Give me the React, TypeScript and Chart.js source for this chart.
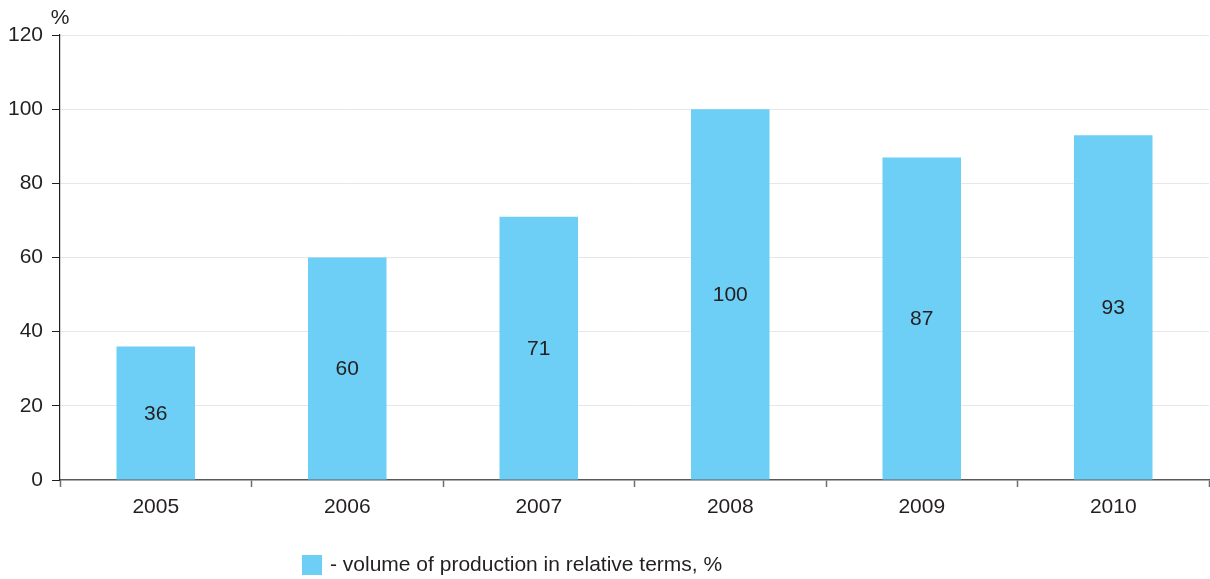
import React, { useEffect, useRef } from "react";
import { Chart, registerables } from "chart.js";

Chart.register(...registerables);

const years = ["2005", "2006", "2007", "2008", "2009", "2010"];
const volume = [36, 60, 71, 100, 87, 93];
const yTicks = [0, 20, 40, 60, 80, 100, 120];
const seriesLabel = "- volume of production in relative terms, %";
const unitLabel = "%";

const FONT = "'Liberation Sans', Arial, Helvetica, sans-serif";
const FONT_SIZE = 21;
const BAR_COLOR = "#6dcff6";
const TEXT_COLOR = "#231f20";

// Value labels centred inside each bar
const valueLabels = {
  id: "valueLabels",
  afterDatasetsDraw(chart: any) {
    const { ctx } = chart;
    const meta = chart.getDatasetMeta(0);
    const data = chart.data.datasets[0].data as number[];
    ctx.save();
    ctx.font = `${FONT_SIZE}px ${FONT}`;
    ctx.fillStyle = TEXT_COLOR;
    ctx.textAlign = "center";
    ctx.textBaseline = "middle";
    meta.data.forEach((bar: any, i: number) => {
      const { x, y, base } = bar.getProps(["x", "y", "base"], true);
      ctx.fillText(String(data[i]), x, (y + base) / 2 + 1);
    });
    ctx.restore();
  },
};

// Unit sign above the value axis and the legend row below the chart
const extras = {
  id: "extras",
  afterDraw(chart: any) {
    const { ctx, chartArea } = chart;
    ctx.save();
    ctx.font = `${FONT_SIZE}px ${FONT}`;
    ctx.fillStyle = TEXT_COLOR;
    ctx.textAlign = "center";
    ctx.textBaseline = "middle";
    ctx.fillText(unitLabel, chartArea.left, chartArea.top - 17);

    const boxX = chartArea.left + 242;
    const boxY = chart.height - 24;
    ctx.fillStyle = BAR_COLOR;
    ctx.fillRect(boxX, boxY, 20, 20);
    ctx.fillStyle = TEXT_COLOR;
    ctx.textAlign = "left";
    ctx.fillText(seriesLabel, boxX + 28, boxY + 10);
    ctx.restore();
  },
};

export default function App() {
  const canvasRef = useRef<HTMLCanvasElement | null>(null);

  useEffect(() => {
    if (!canvasRef.current) return;
    const chart = new Chart(canvasRef.current, {
      type: "bar",
      data: {
        labels: years,
        datasets: [
          {
            label: seriesLabel,
            data: volume,
            backgroundColor: BAR_COLOR,
            borderWidth: 0,
            barPercentage: 0.41,
            categoryPercentage: 1,
          },
        ],
      },
      options: {
        animation: false,
        responsive: false,
        layout: { padding: { top: 35, right: 1, left: 0, bottom: 0 } },
        plugins: {
          legend: { display: false },
          tooltip: { enabled: false },
        },
        scales: {
          x: {
            offset: true,
            grid: {
              offset: true,
              drawOnChartArea: false,
              drawTicks: true,
              tickLength: 7,
              tickColor: "#6d6e71",
              tickWidth: 1.5,
            },
            border: { color: "#58595b", width: 1.5 },
            ticks: {
              color: TEXT_COLOR,
              font: { family: FONT, size: FONT_SIZE },
              padding: 8,
            },
            afterFit(scale: any) {
              scale.height = 99;
            },
          },
          y: {
            min: 0,
            max: 120,
            afterBuildTicks(scale: any) {
              scale.ticks = yTicks.map((v) => ({ value: v }));
            },
            grid: {
              color: (c: any) => (c.tick && c.tick.value === 0 ? "rgba(0,0,0,0)" : "#e6e7e8"),
              lineWidth: 1,
              tickLength: 8,
              tickColor: "#231f20",
            },
            border: { color: "#231f20", width: 1.2 },
            ticks: {
              color: TEXT_COLOR,
              font: { family: FONT, size: FONT_SIZE },
              padding: 9,
            },
            afterFit(scale: any) {
              scale.width = 60;
            },
          },
        },
      },
      plugins: [valueLabels, extras],
    });
    return () => chart.destroy();
  }, []);

  return (
    <div style={{ position: "absolute", left: 0, top: 0, width: 1210, height: 579, background: "#fff" }}>
      <canvas ref={canvasRef} width={1210} height={579} />
    </div>
  );
}
